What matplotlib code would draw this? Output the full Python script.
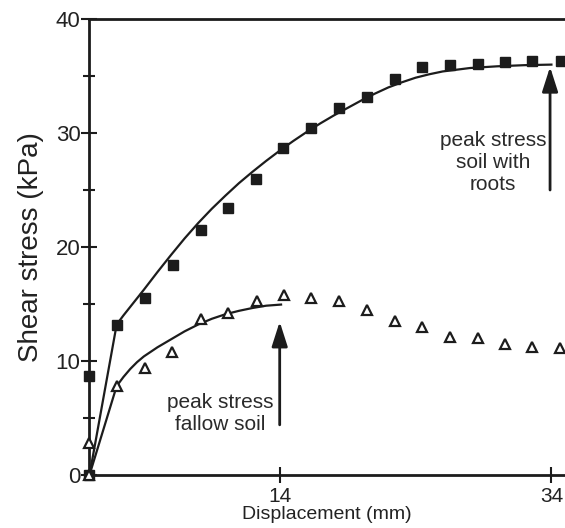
import matplotlib
matplotlib.use("Agg")
import matplotlib.pyplot as plt

# Direct-shear test: fallow soil vs soil with roots
root_disp = [0, 0, 2.05, 4.08, 6.16, 8.2, 10.2, 12.24, 14.25, 16.3, 18.4,
             20.45, 22.46, 24.5, 26.56, 28.6, 30.6, 32.6, 34.7]
root_stress = [0, 8.7, 13.2, 15.5, 18.4, 21.5, 23.4, 26.0, 28.7, 30.4, 32.2,
               33.2, 34.7, 35.8, 35.95, 36.05, 36.2, 36.3, 36.3]

fallow_disp = [0, 0, 2.0, 4.08, 6.1, 8.2, 10.2, 12.3, 14.3, 16.3, 18.4,
               20.4, 22.46, 24.5, 26.56, 28.6, 30.6, 32.6, 34.6]
fallow_stress = [0, 2.8, 7.8, 9.35, 10.8, 13.65, 14.2, 15.3, 15.8, 15.5, 15.3,
                 14.5, 13.5, 13.0, 12.1, 12.0, 11.5, 11.25, 11.1]

# fitted envelopes
root_fit_x = [0, 2.0, 2.5, 3, 3.5, 4, 5, 6, 7, 8, 9, 10, 11, 12, 13, 14, 15, 16,
              17, 18, 19, 20, 21, 22, 23, 24, 25, 26, 27, 28, 30, 32, 34]
root_fit_y = [0, 13.2, 14.0, 14.75, 15.5, 16.25, 17.8, 19.3, 20.75, 22.1, 23.35,
              24.5, 25.6, 26.6, 27.55, 28.45, 29.3, 30.1, 30.85, 31.55, 32.2,
              32.85, 33.45, 34.0, 34.45, 34.85, 35.15, 35.4, 35.55, 35.7,
              35.85, 35.95, 36.0]
fallow_fit_x = [0, 2.0, 2.5, 3, 3.5, 4, 5, 6, 7, 8, 9, 10, 11, 12, 13, 14.1]
fallow_fit_y = [0, 7.8, 8.6, 9.3, 9.9, 10.4, 11.2, 11.9, 12.6, 13.2, 13.7, 14.1,
                14.4, 14.65, 14.85, 14.95]

peak_fallow = (14.0, 13.45, 4.4)   # x, arrow tip, arrow tail
peak_roots = (33.9, 35.8, 25.0)

ink = "#1c1c1c"
plt.rcParams["font.family"] = ["Liberation Sans", "DejaVu Sans"]

fig = plt.figure(figsize=(5.65, 5.28), dpi=100)
ax = fig.add_axes([0.1584, 0.1004, 0.8416, 0.8636])

ax.plot(root_fit_x, root_fit_y, color=ink, lw=1.6, zorder=2)
ax.plot(fallow_fit_x, fallow_fit_y, color=ink, lw=1.6, zorder=2)
ax.plot(root_disp, root_stress, ls="none", marker="s", ms=7.5,
        color=ink, clip_on=False, zorder=3)
ax.plot(fallow_disp, fallow_stress, ls="none", marker="^", ms=6.5,
        mfc="white", mec=ink, mew=1.6, clip_on=False, zorder=3)

for x, tip, tail in (peak_fallow, peak_roots):
    ax.annotate("", xy=(x, tip), xytext=(x, tail),
                arrowprops=dict(arrowstyle="-|>,head_length=0.75,head_width=0.24",
                                mutation_scale=20, lw=2, color=ink,
                                shrinkA=0, shrinkB=0))

ax.text(9.6, 5.4, "peak stress\nfallow soil", ha="center", va="center",
        fontsize=15, color="#2a2a2a", linespacing=1.2)
ax.text(29.7, 27.4, "peak stress\nsoil with\nroots", ha="center", va="center",
        fontsize=15, color="#2a2a2a", linespacing=1.2)

ax.set_xlim(0, 35)
ax.set_ylim(0, 40)
ax.set_xticks([14, 34])
ax.set_yticks([0, 10, 20, 30, 40])
ax.set_yticks([5, 15, 25, 35], minor=True)
ax.tick_params(which="both", direction="inout", width=1.5, color=ink,
               labelsize=16, labelcolor="#222222")
ax.tick_params(axis="y", pad=1)
ax.tick_params(axis="x", pad=3, labelsize=15)
ax.tick_params(which="major", length=11)
ax.tick_params(which="minor", length=8.5)

ax.spines["right"].set_visible(False)
for side in ("left", "top", "bottom"):
    ax.spines[side].set_linewidth(2)
    ax.spines[side].set_color(ink)

ax.set_xlabel("Displacement (mm)", fontsize=14, color="#222222", labelpad=0)
ax.set_ylabel("Shear stress (kPa)", fontsize=20, color="#222222", labelpad=8)

fig.savefig("out.png", dpi=100)
